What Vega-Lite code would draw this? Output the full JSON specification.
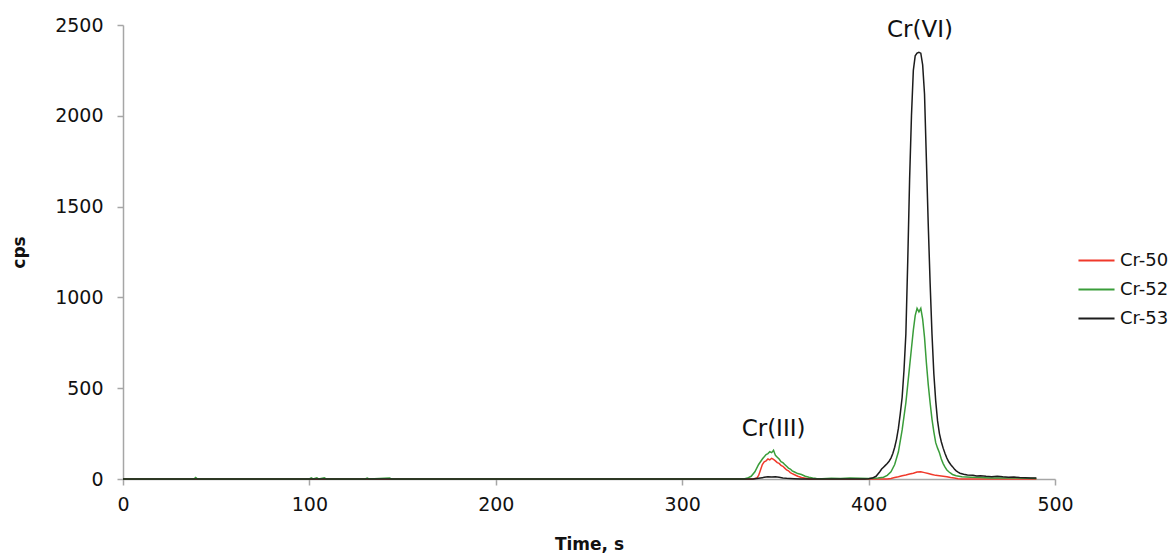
{
  "$schema": "https://vega.github.io/schema/vega-lite/v6.json",
  "width": 932,
  "height": 454,
  "autosize": {"type": "none"},
  "padding": {"left": 123, "top": 25, "right": 119, "bottom": 77},
  "background": "white",
  "config": {"view": {"stroke": null}, "font": "DejaVu Sans"},
  "datasets": {
    "traces": [
      {"t": 0, "iso": "Cr-50", "v": 0}, {"t": 338, "iso": "Cr-50", "v": 0}, {"t": 340, "iso": "Cr-50", "v": 5}, {"t": 341, "iso": "Cr-50", "v": 20},
      {"t": 342, "iso": "Cr-50", "v": 50}, {"t": 343, "iso": "Cr-50", "v": 80}, {"t": 344, "iso": "Cr-50", "v": 95}, {"t": 345, "iso": "Cr-50", "v": 100},
      {"t": 346, "iso": "Cr-50", "v": 110}, {"t": 347, "iso": "Cr-50", "v": 105}, {"t": 348, "iso": "Cr-50", "v": 114}, {"t": 349, "iso": "Cr-50", "v": 108},
      {"t": 350, "iso": "Cr-50", "v": 100}, {"t": 351, "iso": "Cr-50", "v": 90}, {"t": 352, "iso": "Cr-50", "v": 86}, {"t": 353, "iso": "Cr-50", "v": 75},
      {"t": 354, "iso": "Cr-50", "v": 70}, {"t": 355, "iso": "Cr-50", "v": 60}, {"t": 356, "iso": "Cr-50", "v": 50}, {"t": 357, "iso": "Cr-50", "v": 45},
      {"t": 358, "iso": "Cr-50", "v": 35}, {"t": 359, "iso": "Cr-50", "v": 30}, {"t": 360, "iso": "Cr-50", "v": 25}, {"t": 362, "iso": "Cr-50", "v": 15},
      {"t": 364, "iso": "Cr-50", "v": 8}, {"t": 366, "iso": "Cr-50", "v": 4}, {"t": 368, "iso": "Cr-50", "v": 0}, {"t": 410, "iso": "Cr-50", "v": 0},
      {"t": 412, "iso": "Cr-50", "v": 3}, {"t": 414, "iso": "Cr-50", "v": 8}, {"t": 416, "iso": "Cr-50", "v": 12}, {"t": 418, "iso": "Cr-50", "v": 18},
      {"t": 420, "iso": "Cr-50", "v": 22}, {"t": 422, "iso": "Cr-50", "v": 28}, {"t": 424, "iso": "Cr-50", "v": 32}, {"t": 426, "iso": "Cr-50", "v": 38},
      {"t": 428, "iso": "Cr-50", "v": 40}, {"t": 430, "iso": "Cr-50", "v": 35}, {"t": 432, "iso": "Cr-50", "v": 30}, {"t": 434, "iso": "Cr-50", "v": 25},
      {"t": 436, "iso": "Cr-50", "v": 20}, {"t": 438, "iso": "Cr-50", "v": 18}, {"t": 440, "iso": "Cr-50", "v": 15}, {"t": 442, "iso": "Cr-50", "v": 12},
      {"t": 444, "iso": "Cr-50", "v": 8}, {"t": 446, "iso": "Cr-50", "v": 5}, {"t": 448, "iso": "Cr-50", "v": 2}, {"t": 450, "iso": "Cr-50", "v": 0},
      {"t": 490, "iso": "Cr-50", "v": 0},

      {"t": 0, "iso": "Cr-52", "v": 0}, {"t": 38, "iso": "Cr-52", "v": 0}, {"t": 39, "iso": "Cr-52", "v": 8}, {"t": 40, "iso": "Cr-52", "v": 0},
      {"t": 100, "iso": "Cr-52", "v": 0}, {"t": 101, "iso": "Cr-52", "v": 6}, {"t": 102, "iso": "Cr-52", "v": 0}, {"t": 104, "iso": "Cr-52", "v": 7},
      {"t": 105, "iso": "Cr-52", "v": 0}, {"t": 108, "iso": "Cr-52", "v": 6}, {"t": 109, "iso": "Cr-52", "v": 0}, {"t": 130, "iso": "Cr-52", "v": 0},
      {"t": 131, "iso": "Cr-52", "v": 5}, {"t": 132, "iso": "Cr-52", "v": 0}, {"t": 143, "iso": "Cr-52", "v": 6}, {"t": 144, "iso": "Cr-52", "v": 0},
      {"t": 333, "iso": "Cr-52", "v": 0}, {"t": 335, "iso": "Cr-52", "v": 5}, {"t": 337, "iso": "Cr-52", "v": 15}, {"t": 339, "iso": "Cr-52", "v": 40},
      {"t": 341, "iso": "Cr-52", "v": 80}, {"t": 343, "iso": "Cr-52", "v": 110}, {"t": 345, "iso": "Cr-52", "v": 135}, {"t": 346, "iso": "Cr-52", "v": 140},
      {"t": 347, "iso": "Cr-52", "v": 150}, {"t": 348, "iso": "Cr-52", "v": 145}, {"t": 349, "iso": "Cr-52", "v": 158}, {"t": 350, "iso": "Cr-52", "v": 130},
      {"t": 351, "iso": "Cr-52", "v": 120}, {"t": 352, "iso": "Cr-52", "v": 110}, {"t": 353, "iso": "Cr-52", "v": 95}, {"t": 354, "iso": "Cr-52", "v": 90},
      {"t": 355, "iso": "Cr-52", "v": 80}, {"t": 356, "iso": "Cr-52", "v": 70}, {"t": 357, "iso": "Cr-52", "v": 60}, {"t": 358, "iso": "Cr-52", "v": 55},
      {"t": 359, "iso": "Cr-52", "v": 45}, {"t": 360, "iso": "Cr-52", "v": 40}, {"t": 362, "iso": "Cr-52", "v": 30}, {"t": 364, "iso": "Cr-52", "v": 25},
      {"t": 366, "iso": "Cr-52", "v": 15}, {"t": 368, "iso": "Cr-52", "v": 10}, {"t": 370, "iso": "Cr-52", "v": 6}, {"t": 372, "iso": "Cr-52", "v": 3},
      {"t": 375, "iso": "Cr-52", "v": 2}, {"t": 380, "iso": "Cr-52", "v": 4}, {"t": 385, "iso": "Cr-52", "v": 3}, {"t": 390, "iso": "Cr-52", "v": 5},
      {"t": 395, "iso": "Cr-52", "v": 4}, {"t": 400, "iso": "Cr-52", "v": 3}, {"t": 405, "iso": "Cr-52", "v": 6}, {"t": 408, "iso": "Cr-52", "v": 10},
      {"t": 410, "iso": "Cr-52", "v": 20}, {"t": 412, "iso": "Cr-52", "v": 40}, {"t": 414, "iso": "Cr-52", "v": 80}, {"t": 416, "iso": "Cr-52", "v": 150},
      {"t": 418, "iso": "Cr-52", "v": 270}, {"t": 420, "iso": "Cr-52", "v": 420}, {"t": 421, "iso": "Cr-52", "v": 520}, {"t": 422, "iso": "Cr-52", "v": 620},
      {"t": 423, "iso": "Cr-52", "v": 720}, {"t": 424, "iso": "Cr-52", "v": 820}, {"t": 425, "iso": "Cr-52", "v": 900}, {"t": 426, "iso": "Cr-52", "v": 940},
      {"t": 427, "iso": "Cr-52", "v": 920}, {"t": 428, "iso": "Cr-52", "v": 940}, {"t": 429, "iso": "Cr-52", "v": 880}, {"t": 430, "iso": "Cr-52", "v": 780},
      {"t": 431, "iso": "Cr-52", "v": 640}, {"t": 432, "iso": "Cr-52", "v": 520}, {"t": 433, "iso": "Cr-52", "v": 420}, {"t": 434, "iso": "Cr-52", "v": 330},
      {"t": 435, "iso": "Cr-52", "v": 260}, {"t": 436, "iso": "Cr-52", "v": 200}, {"t": 437, "iso": "Cr-52", "v": 170}, {"t": 438, "iso": "Cr-52", "v": 145},
      {"t": 439, "iso": "Cr-52", "v": 110}, {"t": 440, "iso": "Cr-52", "v": 85}, {"t": 441, "iso": "Cr-52", "v": 65}, {"t": 442, "iso": "Cr-52", "v": 50},
      {"t": 443, "iso": "Cr-52", "v": 40}, {"t": 445, "iso": "Cr-52", "v": 25}, {"t": 447, "iso": "Cr-52", "v": 18}, {"t": 450, "iso": "Cr-52", "v": 12},
      {"t": 455, "iso": "Cr-52", "v": 10}, {"t": 460, "iso": "Cr-52", "v": 8}, {"t": 465, "iso": "Cr-52", "v": 6}, {"t": 470, "iso": "Cr-52", "v": 6},
      {"t": 475, "iso": "Cr-52", "v": 5}, {"t": 480, "iso": "Cr-52", "v": 5}, {"t": 485, "iso": "Cr-52", "v": 4}, {"t": 490, "iso": "Cr-52", "v": 3},

      {"t": 0, "iso": "Cr-53", "v": 0}, {"t": 338, "iso": "Cr-53", "v": 0}, {"t": 340, "iso": "Cr-53", "v": 3}, {"t": 342, "iso": "Cr-53", "v": 6},
      {"t": 344, "iso": "Cr-53", "v": 9}, {"t": 346, "iso": "Cr-53", "v": 12}, {"t": 348, "iso": "Cr-53", "v": 11}, {"t": 350, "iso": "Cr-53", "v": 12},
      {"t": 352, "iso": "Cr-53", "v": 9}, {"t": 354, "iso": "Cr-53", "v": 6}, {"t": 356, "iso": "Cr-53", "v": 4}, {"t": 358, "iso": "Cr-53", "v": 3},
      {"t": 360, "iso": "Cr-53", "v": 2}, {"t": 364, "iso": "Cr-53", "v": 0}, {"t": 398, "iso": "Cr-53", "v": 0}, {"t": 400, "iso": "Cr-53", "v": 2},
      {"t": 402, "iso": "Cr-53", "v": 5}, {"t": 404, "iso": "Cr-53", "v": 15}, {"t": 406, "iso": "Cr-53", "v": 40}, {"t": 407, "iso": "Cr-53", "v": 55},
      {"t": 408, "iso": "Cr-53", "v": 65}, {"t": 409, "iso": "Cr-53", "v": 75}, {"t": 410, "iso": "Cr-53", "v": 85}, {"t": 411, "iso": "Cr-53", "v": 98},
      {"t": 412, "iso": "Cr-53", "v": 115}, {"t": 413, "iso": "Cr-53", "v": 140}, {"t": 414, "iso": "Cr-53", "v": 175}, {"t": 415, "iso": "Cr-53", "v": 220},
      {"t": 416, "iso": "Cr-53", "v": 280}, {"t": 417, "iso": "Cr-53", "v": 360}, {"t": 418, "iso": "Cr-53", "v": 450}, {"t": 419, "iso": "Cr-53", "v": 600},
      {"t": 420, "iso": "Cr-53", "v": 800}, {"t": 421, "iso": "Cr-53", "v": 1200}, {"t": 422, "iso": "Cr-53", "v": 1650}, {"t": 423, "iso": "Cr-53", "v": 2000},
      {"t": 424, "iso": "Cr-53", "v": 2250}, {"t": 425, "iso": "Cr-53", "v": 2330}, {"t": 426, "iso": "Cr-53", "v": 2345}, {"t": 427, "iso": "Cr-53", "v": 2350},
      {"t": 428, "iso": "Cr-53", "v": 2345}, {"t": 429, "iso": "Cr-53", "v": 2280}, {"t": 430, "iso": "Cr-53", "v": 2120}, {"t": 431, "iso": "Cr-53", "v": 1760},
      {"t": 432, "iso": "Cr-53", "v": 1400}, {"t": 433, "iso": "Cr-53", "v": 1080}, {"t": 434, "iso": "Cr-53", "v": 800}, {"t": 435, "iso": "Cr-53", "v": 580},
      {"t": 436, "iso": "Cr-53", "v": 430}, {"t": 437, "iso": "Cr-53", "v": 320}, {"t": 438, "iso": "Cr-53", "v": 250}, {"t": 439, "iso": "Cr-53", "v": 205},
      {"t": 440, "iso": "Cr-53", "v": 170}, {"t": 441, "iso": "Cr-53", "v": 140}, {"t": 442, "iso": "Cr-53", "v": 115}, {"t": 443, "iso": "Cr-53", "v": 95},
      {"t": 444, "iso": "Cr-53", "v": 80}, {"t": 445, "iso": "Cr-53", "v": 68}, {"t": 446, "iso": "Cr-53", "v": 55}, {"t": 447, "iso": "Cr-53", "v": 45},
      {"t": 448, "iso": "Cr-53", "v": 38}, {"t": 449, "iso": "Cr-53", "v": 32}, {"t": 451, "iso": "Cr-53", "v": 26}, {"t": 453, "iso": "Cr-53", "v": 22},
      {"t": 456, "iso": "Cr-53", "v": 20}, {"t": 458, "iso": "Cr-53", "v": 16}, {"t": 460, "iso": "Cr-53", "v": 18}, {"t": 463, "iso": "Cr-53", "v": 15},
      {"t": 466, "iso": "Cr-53", "v": 13}, {"t": 469, "iso": "Cr-53", "v": 15}, {"t": 472, "iso": "Cr-53", "v": 12}, {"t": 475, "iso": "Cr-53", "v": 10},
      {"t": 478, "iso": "Cr-53", "v": 11}, {"t": 481, "iso": "Cr-53", "v": 8}, {"t": 484, "iso": "Cr-53", "v": 7}, {"t": 487, "iso": "Cr-53", "v": 6},
      {"t": 490, "iso": "Cr-53", "v": 5}
    ],
    "labels": [
      {"t": 349, "v": 275, "label": "Cr(III)"},
      {"t": 427.6, "v": 2475, "label": "Cr(VI)"}
    ]
  },
  "layer": [
    {
      "data": {"name": "traces"},
      "mark": {"type": "line", "strokeWidth": 1.5},
      "encoding": {
        "x": {
          "field": "t", "type": "quantitative",
          "scale": {"domain": [0, 500], "nice": false},
          "axis": {
            "title": "Time, s", "values": [0, 100, 200, 300, 400, 500], "grid": false, "format": "d",
            "domainColor": "#a6a6a6", "domainWidth": 1.5, "tickColor": "#a6a6a6", "tickWidth": 1.5, "tickSize": 6,
            "labelFontSize": 19, "labelColor": "#111111", "labelPadding": 10, "labelFlush": false,
            "titleFontSize": 17, "titleFontWeight": "bold", "titleColor": "#111111", "titlePadding": 22
          }
        },
        "y": {
          "field": "v", "type": "quantitative",
          "scale": {"domain": [0, 2500], "nice": false},
          "axis": {
            "title": "cps", "values": [0, 500, 1000, 1500, 2000, 2500], "grid": false, "format": "d",
            "domainColor": "#a6a6a6", "domainWidth": 1.5, "tickColor": "#a6a6a6", "tickWidth": 1.5, "tickSize": 6,
            "labelFontSize": 19, "labelColor": "#111111", "labelPadding": 14,
            "titleFontSize": 17, "titleFontWeight": "bold", "titleColor": "#111111", "titlePadding": 26
          }
        },
        "color": {
          "field": "iso", "type": "nominal",
          "scale": {"domain": ["Cr-50", "Cr-52", "Cr-53"], "range": ["#f0392b", "#3a9d3a", "#1c1c1c"]},
          "legend": {
            "title": null, "orient": "none", "legendX": 954, "legendY": 216,
            "symbolType": "stroke", "symbolStrokeWidth": 2, "symbolSize": 1300,
            "labelFontSize": 18, "labelColor": "#111111", "labelOffset": 4, "rowPadding": 0
          }
        }
      }
    },
    {
      "data": {"name": "labels"},
      "mark": {"type": "text", "fontSize": 23, "align": "center", "baseline": "middle", "color": "#111111"},
      "encoding": {
        "x": {"field": "t", "type": "quantitative"},
        "y": {"field": "v", "type": "quantitative"},
        "text": {"field": "label"}
      }
    }
  ]
}
